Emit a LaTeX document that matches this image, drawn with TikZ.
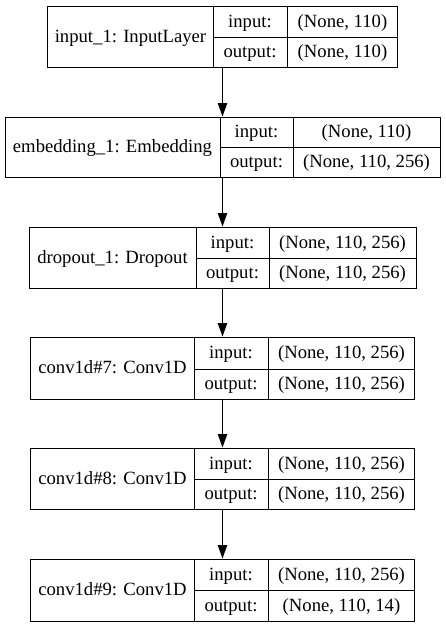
\documentclass[tikz,border=0pt]{standalone}
\usepackage{fontspec}
\setmainfont{Liberation Serif}
\usetikzlibrary{positioning}
\usetikzlibrary{arrows.meta}

\tikzset{
  layerbox/.style={draw, line width=1pt, inner sep=0pt},
  cell/.style={inner sep=0pt, text height=0.69em, text depth=0.22em, yshift=-2.5pt,
    font=\fontsize{18.67pt}{22pt}\selectfont},
  divider/.style={line width=1pt},
  flow/.style={line width=1pt, -{Triangle[length=13.3pt, width=9.3pt]}}
}

\begin{document}
\begin{tikzpicture}[x=1pt, y=-1pt]
\useasboundingbox (0,0) rectangle (445,627);

% input_1
{
\node[layerbox, minimum width=350pt, minimum height=61pt] (input1) at (222.5,36.5) {};
\draw[divider] (213,6)--(213,67);
\draw[divider] (287,6)--(287,67);
\draw[divider] (213,37)--(398,37);

\node[cell] (input1-name) at (130.5,37.5) {input\_1: InputLayer};
\node[cell] (input1-in) at (250,22.5) {input:};
\node[cell] (input1-out) at (250,53) {output:};
\node[cell] (input1-inv) at (342.5,22.5) {(None, 110)};
\node[cell] (input1-outv) at (342.5,53) {(None, 110)};
}

% embedding_1
{
\node[layerbox, minimum width=435pt, minimum height=60pt] (emb1) at (222.5,147) {};
\draw[divider] (220,117)--(220,177);
\draw[divider] (293,117)--(293,177);
\draw[divider] (220,147)--(440,147);

\node[cell] (emb1-name) at (112.5,148) {embedding\_1: Embedding};
\node[cell] (emb1-in) at (256.5,133) {input:};
\node[cell] (emb1-out) at (256.5,163) {output:};
\node[cell] (emb1-inv) at (366.5,133) {(None, 110)};
\node[cell] (emb1-outv) at (366.5,163) {(None, 110, 256)};
}

% dropout_1
{
\node[layerbox, minimum width=387pt, minimum height=61pt] (drop1) at (222.5,257.5) {};
\draw[divider] (196,227)--(196,288);
\draw[divider] (269,227)--(269,288);
\draw[divider] (196,258)--(416,258);

\node[cell] (drop1-name) at (112.5,258.5) {dropout\_1: Dropout};
\node[cell] (drop1-in) at (232.5,243.5) {input:};
\node[cell] (drop1-out) at (232.5,274) {output:};
\node[cell] (drop1-inv) at (342.5,243.5) {(None, 110, 256)};
\node[cell] (drop1-outv) at (342.5,274) {(None, 110, 256)};
}

% conv1d#7
{
\node[layerbox, minimum width=384pt, minimum height=62pt] (conv7) at (222.5,368) {};
\draw[divider] (194,337)--(194,399);
\draw[divider] (268,337)--(268,399);
\draw[divider] (194,369)--(415,369);

\node[cell] (conv7-name) at (112.5,369) {conv1d\#7: Conv1D};
\node[cell] (conv7-in) at (231,354) {input:};
\node[cell] (conv7-out) at (231,385) {output:};
\node[cell] (conv7-inv) at (341.5,354) {(None, 110, 256)};
\node[cell] (conv7-outv) at (341.5,385) {(None, 110, 256)};
}

% conv1d#8
{
\node[layerbox, minimum width=384pt, minimum height=61pt] (conv8) at (222.5,478.5) {};
\draw[divider] (194,448)--(194,509);
\draw[divider] (268,448)--(268,509);
\draw[divider] (194,479)--(415,479);

\node[cell] (conv8-name) at (112.5,479.5) {conv1d\#8: Conv1D};
\node[cell] (conv8-in) at (231,464.5) {input:};
\node[cell] (conv8-out) at (231,495) {output:};
\node[cell] (conv8-inv) at (341.5,464.5) {(None, 110, 256)};
\node[cell] (conv8-outv) at (341.5,495) {(None, 110, 256)};
}

% conv1d#9
{
\node[layerbox, minimum width=384pt, minimum height=62pt] (conv9) at (222.5,590) {};
\draw[divider] (194,559)--(194,621);
\draw[divider] (268,559)--(268,621);
\draw[divider] (194,590)--(415,590);

\node[cell] (conv9-name) at (112.5,591) {conv1d\#9: Conv1D};
\node[cell] (conv9-in) at (231,575.5) {input:};
\node[cell] (conv9-out) at (231,606.5) {output:};
\node[cell] (conv9-inv) at (341.5,575.5) {(None, 110, 256)};
\node[cell] (conv9-outv) at (341.5,606.5) {(None, 110, 14)};
}

% arrows
\draw[flow] (input1.south) -- (emb1.north);
\draw[flow] (emb1.south) -- (drop1.north);
\draw[flow] (drop1.south) -- (conv7.north);
\draw[flow] (conv7.south) -- (conv8.north);
\draw[flow] (conv8.south) -- (conv9.north);

\end{tikzpicture}
\end{document}
